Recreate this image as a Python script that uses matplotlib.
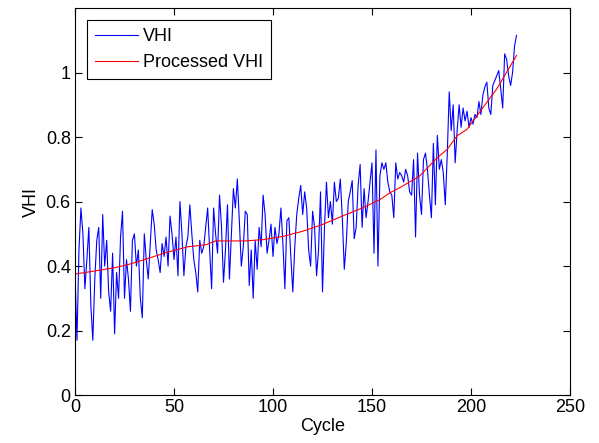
import matplotlib
matplotlib.use("Agg")
import matplotlib.pyplot as plt

# raw VHI per cycle (cycles 0..223)
vhi = [
    0.38, 0.17, 0.45, 0.58, 0.50, 0.33, 0.42, 0.52, 0.28, 0.17,
    0.36, 0.48, 0.52, 0.30, 0.56, 0.40, 0.48, 0.32, 0.26, 0.44,
    0.19, 0.38, 0.30, 0.49, 0.57, 0.30, 0.42, 0.36,
    0.26, 0.48, 0.50, 0.40, 0.45, 0.30, 0.24, 0.50, 0.42, 0.36,
    0.47, 0.575, 0.53, 0.45, 0.42, 0.38, 0.47, 0.43, 0.49, 0.40,
    0.555, 0.50, 0.42, 0.49, 0.37, 0.60, 0.50, 0.37, 0.46,
    0.49, 0.59, 0.50, 0.42, 0.38, 0.32, 0.48, 0.44, 0.46, 0.52,
    0.58, 0.45, 0.33, 0.58, 0.50, 0.44, 0.62, 0.52, 0.35, 0.45,
    0.59, 0.36, 0.50, 0.64, 0.58, 0.67, 0.54, 0.40, 0.46, 0.57,
    0.56, 0.34, 0.45, 0.30, 0.48, 0.39, 0.52, 0.46, 0.62, 0.56,
    0.44, 0.48, 0.53, 0.43, 0.52, 0.47, 0.50, 0.58, 0.47, 0.33,
    0.54, 0.55, 0.43, 0.32, 0.46, 0.56, 0.61, 0.65, 0.56,
    0.63, 0.58, 0.45, 0.40, 0.57, 0.52, 0.37, 0.45, 0.63, 0.32,
    0.52, 0.66, 0.55, 0.60, 0.53, 0.66, 0.60, 0.61, 0.67, 0.55,
    0.39, 0.47, 0.60, 0.63, 0.665, 0.485, 0.52, 0.65, 0.715,
    0.52, 0.64, 0.55, 0.60, 0.66, 0.72, 0.44, 0.76, 0.40, 0.68,
    0.72, 0.70, 0.72, 0.66, 0.63, 0.62, 0.55, 0.72, 0.67, 0.69,
    0.68, 0.66, 0.70, 0.68, 0.63, 0.62, 0.73, 0.49, 0.75,
    0.62, 0.56, 0.73, 0.75, 0.70, 0.62, 0.55, 0.78, 0.59, 0.805,
    0.70, 0.73, 0.69, 0.59, 0.745, 0.94, 0.82, 0.90, 0.72, 0.82,
    0.90, 0.83, 0.89, 0.85, 0.88, 0.83, 0.86, 0.84, 0.87, 0.86,
    0.91, 0.87, 0.93, 0.955, 0.97, 0.89, 0.87, 0.96, 0.975, 0.99,
    1.006, 0.95, 0.89, 1.058, 1.04, 0.99, 0.96, 1.0, 1.083, 1.115,
]
cycles = list(range(len(vhi)))

# smoothed curve, read at a few cycles
proc_cycles = [0, 10, 20, 27, 35, 45, 57, 66, 71, 86, 95, 105, 115, 125,
               135, 145, 154, 159, 164, 174, 183, 188, 193, 198, 203, 213, 223]
proc_vhi = [0.375, 0.385, 0.395, 0.405, 0.42, 0.44, 0.46, 0.466, 0.478, 0.478,
            0.482, 0.492, 0.508, 0.529, 0.555, 0.58, 0.606, 0.627, 0.643, 0.679,
            0.736, 0.762, 0.804, 0.824, 0.866, 0.949, 1.053]

xticks = [0, 50, 100, 150, 200, 250]
yticks = [0, 0.2, 0.4, 0.6, 0.8, 1]
ytick_labels = ["0", "0.2", "0.4", "0.6", "0.8", "1"]

plt.rcParams["font.family"] = ["Liberation Sans", "DejaVu Sans"]
plt.rcParams["font.size"] = 13

fig = plt.figure(figsize=(5.99, 4.43), dpi=100)
ax = fig.add_axes([0.1252, 0.108, 0.8264, 0.874])

ax.plot(cycles, vhi, color="#0000ff", lw=0.8, label="VHI")
ax.plot(proc_cycles, proc_vhi, color="#ff0000", lw=0.8, label="Processed VHI")

ax.set_xlim(0, 250)
ax.set_ylim(0, 1.2)
ax.set_xticks(xticks)
ax.set_yticks(yticks)
ax.set_yticklabels(ytick_labels)
ax.tick_params(direction="in", length=5, width=0.8, top=True, right=True, pad=3)
for s in ax.spines.values():
    s.set_linewidth(0.8)

ax.set_xlabel("Cycle", labelpad=1)
ax.set_ylabel("VHI", labelpad=4)

leg = ax.legend(loc="upper left", fancybox=False, edgecolor="black",
                handlelength=2.4, handletextpad=0.25, borderaxespad=0.65,
                borderpad=0.45, labelspacing=0.5, framealpha=1)
leg.get_frame().set_linewidth(0.8)

fig.savefig("out.png", dpi=100)
